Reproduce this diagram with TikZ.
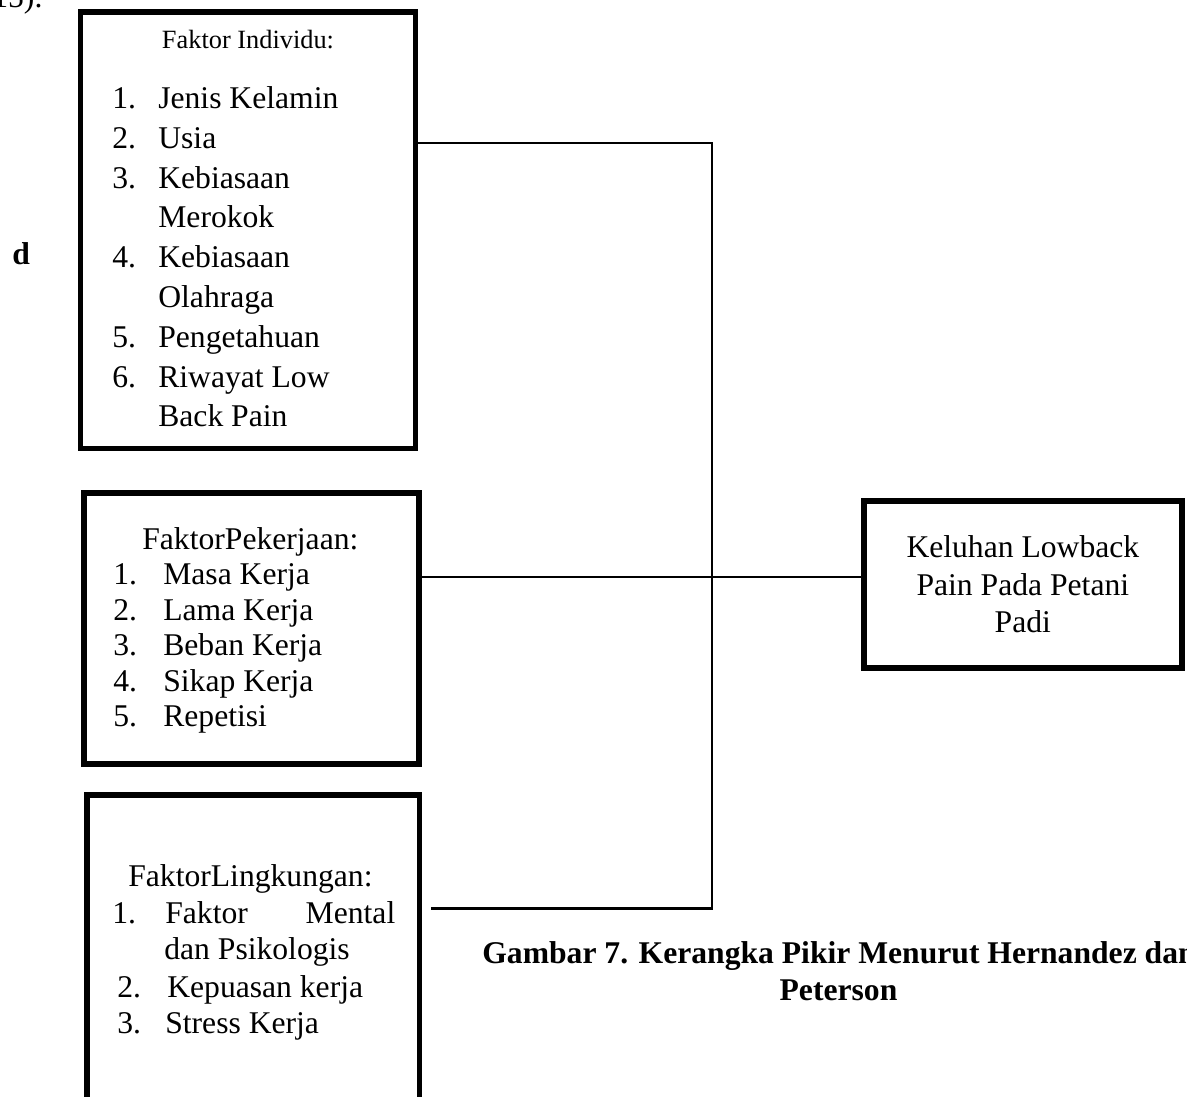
\documentclass[tikz,border=0pt]{standalone}
\usepackage{fontspec}
\setmainfont{Liberation Serif}
\usepackage{tikz}
\usetikzlibrary{positioning, calc}

\tikzstyle{box} = [rectangle, draw=black, line width=3.2pt, inner sep=0pt, outer sep=0pt]
\tikzstyle{item} = [inner sep=0pt, anchor=base west, font=\fontsize{18}{22}\selectfont]
\tikzstyle{head} = [inner sep=0pt, font=\fontsize{15}{18}\selectfont]
\tikzstyle{caption} = [inner sep=0pt, font=\bfseries\fontsize{18}{22}\selectfont]
\tikzstyle{link} = [line width=1.3pt]

% number column of a list line
\newcommand{\nr}[2][0.92cm]{\makebox[#1][l]{#2}}

\begin{document}
\begin{tikzpicture}[x=0.02cm, y=-0.02cm]
        \useasboundingbox (0,0) rectangle (1187,1097);

        % boxes
        \node (ind) [box, minimum width=6.7cm, minimum height=8.73cm] at (248,230.25) {};
        \node (pek) [box, minimum width=6.706cm, minimum height=5.42cm] at (251.35,628.5) {};
        \node (ling) [box, minimum width=6.654cm, minimum height=6.6cm] at (253.35,960) {};
        \node (kel) [box, minimum width=6.366cm, minimum height=3.34cm, align=center,
                font=\fontsize{18}{21.3}\selectfont] at (1022.85,584.5)
                {Keluhan Lowback\\Pain Pada Petani\\Padi};

        % faktor individu
        \node (indhead) [head, anchor=base] at (248,49) {Faktor Individu:};
        \node (i1) [item] at (112,109) {\nr{1.}Jenis Kelamin};
        \node (i2) [item] at (112,149) {\nr{2.}Usia};
        \node (i3) [item] at (112,189) {\nr{3.}Kebiasaan};
        \node (i3b) [item] at (158,228) {Merokok};
        \node (i4) [item] at (112,268) {\nr{4.}Kebiasaan};
        \node (i4b) [item] at (158,308) {Olahraga};
        \node (i5) [item] at (112,348) {\nr{5.}Pengetahuan};
        \node (i6) [item] at (112,388) {\nr{6.}Riwayat Low};
        \node (i6b) [item] at (158,427) {Back Pain};

        % faktor pekerjaan
        \node (pekhead) [item] at (142,550) {FaktorPekerjaan:};
        \node (p1) [item] at (113,585) {\nr[1cm]{1.}Masa Kerja};
        \node (p2) [item] at (113,620.5) {\nr[1cm]{2.}Lama Kerja};
        \node (p3) [item] at (113,656) {\nr[1cm]{3.}Beban Kerja};
        \node (p4) [item] at (113,691.5) {\nr[1cm]{4.}Sikap Kerja};
        \node (p5) [item] at (113,727) {\nr[1cm]{5.}Repetisi};

        % faktor lingkungan
        \node (linghead) [item] at (128,887) {FaktorLingkungan:};
        \node (l1) [item] at (112,923) {\nr[1.06cm]{1.}\makebox[4.6cm][l]{Faktor\hfill Mental}};
        \node (l1b) [item] at (164,959) {dan Psikologis};
        \node (l2) [item] at (117,997) {\nr[1cm]{2.}Kepuasan kerja};
        \node (l3) [item] at (117,1033) {\nr[0.96cm]{3.}Stress Kerja};

        % connectors
        \coordinate (jt) at (712,143);
        \coordinate (jm) at (712,576.7);
        \coordinate (jb) at (712,908.5);
        \coordinate (lb) at (431,908.5);
        \draw [link] (ind.east |- jt) -- (jt) -- (jb) -- (lb);
        \draw [link] (pek.east |- jm) -- (kel.west |- jm);

        % surrounding text
        \node (prev) [item] at (-8,8) {15).};
        \node (mark) [item, font=\bfseries\fontsize{18}{22}\selectfont] at (12,265) {d};
        \node (cap1) [caption, anchor=base west] at (482,963) {Gambar 7. Kerangka Pikir Menurut Hernandez dan};
        \node (cap2) [caption, anchor=base] at (838.5,1000) {Peterson};
\end{tikzpicture}
\end{document}
